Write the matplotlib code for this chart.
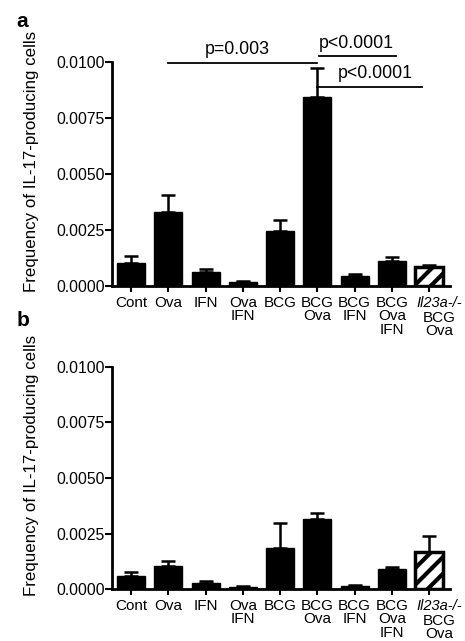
import numpy as np
import matplotlib
matplotlib.use("Agg")
import matplotlib.pyplot as plt
import matplotlib.transforms as mtrans

plt.rcParams['font.family'] = ['Liberation Sans', 'DejaVu Sans']
plt.rcParams['hatch.linewidth'] = 3.0

groups = ["Cont", "Ova", "IFN", "Ova\nIFN", "BCG", "BCG\nOva", "BCG\nIFN", "BCG\nOva\nIFN", ""]
mean_a = [0.00104, 0.00332, 0.00064, 0.00016, 0.00247, 0.00845, 0.00043, 0.00113, 0.00086]
err_a = [0.00030, 0.00073, 0.00010, 0.00008, 0.00048, 0.00130, 0.00012, 0.00018, 0.00008]
mean_b = [0.00061, 0.00105, 0.00030, 0.00009, 0.00187, 0.00314, 0.00013, 0.00091, 0.00168]
err_b = [0.00018, 0.00023, 0.00007, 0.00006, 0.00111, 0.00030, 0.00007, 0.00009, 0.00073]
yticks = [0.0, 0.0025, 0.005, 0.0075, 0.01]

fig = plt.figure(figsize=(4.65, 6.41), dpi=100)
ax1 = fig.add_axes([0.2409, 0.5538, 0.7269, 0.3495])
ax2 = fig.add_axes([0.2409, 0.0807, 0.7269, 0.3472])


def panel(ax, means, errs):
    x = np.arange(len(means))
    for i in x:
        if i == len(means) - 1:
            ax.bar(i, means[i], width=0.75, color="white", edgecolor="black",
                   linewidth=2.5, hatch="//", zorder=2)
        else:
            ax.bar(i, means[i], width=0.75, color="black", edgecolor="black",
                   linewidth=1, zorder=2)
    ax.errorbar(x, means, yerr=[np.zeros(len(errs)), errs], fmt="none",
                ecolor="black", elinewidth=1.8, capsize=5, capthick=1.8, zorder=1)
    ax.set_xlim(-0.51, 8.56)
    ax.set_ylim(0, 0.01)
    ax.set_yticks(yticks)
    ax.set_yticklabels(["%.4f" % v for v in yticks])
    ax.set_xticks(x)
    ax.set_xticklabels(groups, linespacing=0.95, va="top")
    for s in ["top", "right"]:
        ax.spines[s].set_visible(False)
    ax.spines["left"].set_linewidth(2)
    ax.spines["bottom"].set_linewidth(2)
    ax.tick_params(axis="y", direction="out", length=5, width=1.5, pad=0, labelsize=11.3)
    ax.tick_params(axis="x", direction="out", length=4, width=1.5, pad=3, labelsize=11)
    ax.set_ylabel("Frequency of IL-17-producing cells", fontsize=12.2)
    ax.yaxis.set_label_coords(-0.215, 0.555)
    # last tick label: italic genotype line, then BCG / Ova
    base = mtrans.blended_transform_factory(ax.transData, ax.transAxes)
    tr1 = base + mtrans.ScaledTranslation(10 / 100, -9.7 / 100, fig.dpi_scale_trans)
    tr2 = base + mtrans.ScaledTranslation(10 / 100, -24.5 / 100, fig.dpi_scale_trans)
    ax.text(8, 0.0, "Il23a-/-", transform=tr1, fontsize=10.5, style="italic",
            ha="center", va="top")
    ax.text(8, 0.0, "BCG\nOva", transform=tr2, fontsize=11, linespacing=0.95,
            ha="center", va="top")


panel(ax1, mean_a, err_a)
panel(ax2, mean_b, err_b)

# significance bars in panel a
sig_lines = [(1, 5, 0.00995), (5.05, 7.1, 0.01025), (5, 7.8, 0.0089)]
for x0, x1, y in sig_lines:
    ax1.plot([x0, x1], [y, y], color="black", lw=1.3, clip_on=False)
ax1.text(2.85, 0.0102, "p=0.003", ha="center", va="bottom", fontsize=12.8)
ax1.text(6.05, 0.01045, "p<0.0001", ha="center", va="bottom", fontsize=12.8)
ax1.text(6.55, 0.0091, "p<0.0001", ha="center", va="bottom", fontsize=12.8)

fig.text(0.035, 0.982, "a", fontsize=15, fontweight="bold", va="top")
fig.text(0.035, 0.515, "b", fontsize=15, fontweight="bold", va="top")

fig.savefig("out.png", dpi=100)
